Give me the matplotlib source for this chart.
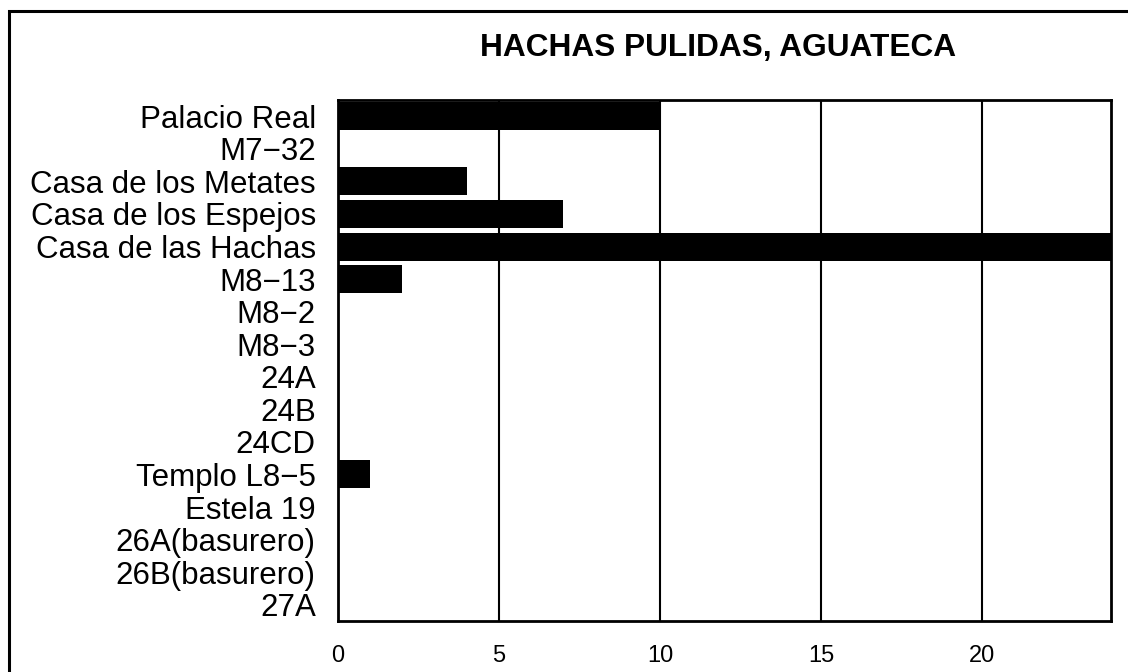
import matplotlib.pyplot as plt
from matplotlib.patches import Rectangle

# data
categories = ["Palacio Real", "M7\u221232", "Casa de los Metates", "Casa de los Espejos",
              "Casa de las Hachas", "M8\u221213", "M8\u22122", "M8\u22123", "24A", "24B", "24CD",
              "Templo L8\u22125", "Estela 19", "26A(basurero)", "26B(basurero)", "27A"]
counts = [10, 0, 4, 7, 24, 2, 0, 0, 0, 0, 0, 1, 0, 0, 0, 0]
xticks = [0, 5, 10, 15, 20]
title = "HACHAS PULIDAS, AGUATECA"

plt.rcParams['font.family'] = ['Liberation Sans', 'DejaVu Sans']

W, H = 1128, 672
fig = plt.figure(figsize=(W / 100, H / 100), dpi=100)
ax = fig.add_axes([338 / W, 1 - 621 / H, 773 / W, 521 / H])

pos = list(range(len(categories)))
ax.barh(pos, counts, height=0.86, color='black', zorder=3)

ax.set_ylim(len(categories) - 0.5, -0.5)
ax.set_xlim(0, 24)
ax.set_yticks(pos)
ax.set_yticklabels(categories, fontsize=22.5)
ax.set_xticks(xticks)
ax.set_xticklabels([str(t) for t in xticks], fontsize=17)
ax.tick_params(axis='x', length=0, pad=17)
ax.tick_params(axis='y', length=0, pad=16)

for t in xticks[1:]:
    ax.axvline(t, color='black', lw=1.5, zorder=2)
for s in ax.spines.values():
    s.set_linewidth(2)
    s.set_zorder(4)

fig.text(718 / W, 1 - 48 / H, title, ha='center', va='center',
         fontsize=22.8, fontweight='bold')

# outer frame around the figure
fig.patches.append(Rectangle((9 / W, -0.1), 1.2, 1.1 - 11 / H, transform=fig.transFigure,
                             fill=False, edgecolor='black', lw=2.2))

fig.savefig("out.png", dpi=100)
